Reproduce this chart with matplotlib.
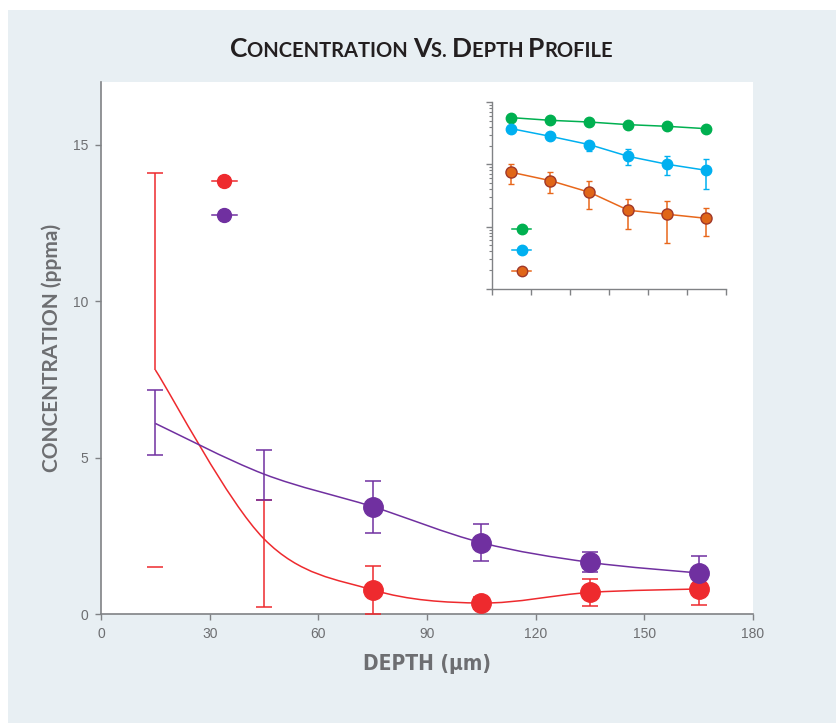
import matplotlib
matplotlib.use("Agg")
import matplotlib.pyplot as plt
import numpy as np
from matplotlib.path import Path
from matplotlib.patches import PathPatch, Rectangle
from matplotlib.lines import Line2D

# main chart data
depth = [15, 45, 75, 105, 135, 165]
red_y = [7.8, 2.4, 0.77, 0.35, 0.69, 0.80]
red_err_lo = [0.0, 2.19, 0.76, 0.2, 0.44, 0.5]
red_err_hi = [6.28, 1.25, 0.76, 0.2, 0.44, 0.5]
red_stray_cap = 1.51          # lone lower cap drawn at 15 um
purple_y = [6.09, 4.47, 3.43, 2.28, 1.65, 1.31]
purple_err_lo = [1.01, 0.82, 0.85, 0.58, 0.32, 0.0]
purple_err_hi = [1.06, 0.78, 0.81, 0.60, 0.34, 0.55]
x_ticks = [0, 30, 60, 90, 120, 150, 180]
y_ticks = [0, 5, 10, 15]

# inset (log scale) data
green_y = [561, 508, 477, 433, 407, 373]
blue_y = [373, 281, 207, 134, 100, 80]
blue_lo = [373, 281, 164, 96, 68, 40]
blue_hi = [373, 281, 228, 174, 134, 120]
orange_y = [74.5, 54.7, 35.6, 18.3, 15.8, 13.6]
orange_lo = [49, 35, 19, 9.3, 5.5, 7.2]
orange_hi = [100, 74.5, 54, 27.5, 25.8, 19.9]

RED = "#ee2a2e"
PURPLE = "#7030a0"
GREEN = "#00b050"
BLUE = "#00b0f0"
ORANGE = "#e8671b"
GREY = "#6d6e71"


def smooth(ax, xs, ys, color, lw=1.1):
    # Catmull-Rom spline drawn as cubic Bezier segments
    p = np.column_stack([xs, ys]).astype(float)
    ext = np.vstack([p[0], p, p[-1]])
    verts = [p[0]]
    codes = [Path.MOVETO]
    for i in range(len(p) - 1):
        p0, p1, p2, p3 = ext[i], ext[i + 1], ext[i + 2], ext[i + 3]
        verts += [p1 + (p2 - p0) / 6, p2 - (p3 - p1) / 6, p2]
        codes += [Path.CURVE4] * 3
    ax.add_patch(PathPatch(Path(verts, codes), fill=False, edgecolor=color, lw=lw, zorder=2))


def bars(ax, xs, ys, lo, hi, color, z):
    ys = np.asarray(ys)
    lo = np.asarray(lo)
    hi = np.asarray(hi)
    xs = np.asarray(xs)
    ax.vlines(xs, ys - lo, ys + hi, color=color, lw=1.1, zorder=z)
    ax.plot(xs[hi > 0], (ys + hi)[hi > 0], "_", ms=12, mew=1.1, color=color, zorder=z)
    ax.plot(xs[lo > 0], (ys - lo)[lo > 0], "_", ms=12, mew=1.1, color=color, zorder=z)


fig = plt.figure(figsize=(8.37, 7.23), dpi=100, facecolor="white")
fig.patches.append(Rectangle((8 / 837, 0), 1, 1 - 10 / 723, transform=fig.transFigure,
                             facecolor="#e8eff3", edgecolor="none", zorder=-10))

ax = fig.add_axes([101 / 837, 1 - 614 / 723, 652 / 837, 532 / 723])
ax.set_facecolor("white")

smooth(ax, depth, red_y, RED)
smooth(ax, depth, purple_y, PURPLE)

bars(ax, depth, red_y, red_err_lo, red_err_hi, RED, 3)
ax.plot([depth[0]], [red_stray_cap], "_", ms=12, mew=1.1, color=RED, zorder=3)
bars(ax, depth, purple_y, purple_err_lo, purple_err_hi, PURPLE, 4)
ax.plot(depth[2:], red_y[2:], "o", ms=14, color=RED, zorder=5)
ax.plot(depth[2:], purple_y[2:], "o", ms=14, color=PURPLE, zorder=5)

ax.set_xlim(0, 180)
ax.set_ylim(0, 17)
ax.set_xticks(x_ticks)
ax.set_yticks(y_ticks)
for s in ["top", "right"]:
    ax.spines[s].set_visible(False)
for s in ["left", "bottom"]:
    ax.spines[s].set_color("#808285")
    ax.spines[s].set_linewidth(1.2)
ax.tick_params(length=4, width=1, color="#808285", labelcolor=GREY, labelsize=10, pad=5)
for lab in ax.get_xticklabels() + ax.get_yticklabels():
    lab.set_family("Liberation Sans")

ax.set_xlabel("DEPTH (\u03bcm)", fontsize=15, fontweight="bold", color=GREY,
              family="DejaVu Sans", fontstretch="condensed", labelpad=10)
ax.set_ylabel("CONCENTRATION (ppma)", fontsize=15, fontweight="bold", color=GREY,
              family=["Lato", "DejaVu Sans"], labelpad=8)

main_handles = [Line2D([], [], color=RED, marker="o", ms=10, lw=1.1),
                Line2D([], [], color=PURPLE, marker="o", ms=10, lw=1.1)]
ax.legend(main_handles, ["", ""], loc="upper left", bbox_to_anchor=(0.159, 0.838),
          frameon=False, handlelength=1.8, labelspacing=1.4, borderpad=0, fontsize=10)

# inset
ins = fig.add_axes([492 / 837, 1 - 289 / 723, 234 / 837, 187 / 723])
ins.patch.set_alpha(0)
ins.set_yscale("log")
ins.plot(depth, green_y, "-o", color=GREEN, ms=7.5, lw=1.1, zorder=3)
ins.errorbar(depth, blue_y, yerr=[np.subtract(blue_y, blue_lo), np.subtract(blue_hi, blue_y)],
             fmt="-o", color=BLUE, ms=7.5, lw=1.1, elinewidth=1.1, capsize=2.5, zorder=3)
ins.errorbar(depth, orange_y, yerr=[np.subtract(orange_y, orange_lo), np.subtract(orange_hi, orange_y)],
             fmt="-o", color=ORANGE, mfc="#e06618", mec="#a0382a", mew=1, ms=8, lw=1.1,
             elinewidth=1.1, capsize=2.5, zorder=3)
ins.set_xlim(0, 180)
ins.set_ylim(1, 1000)
ins.set_xticks(x_ticks)
ins.set_xticklabels([])
ins.yaxis.set_major_formatter(matplotlib.ticker.NullFormatter())
ins.yaxis.set_minor_formatter(matplotlib.ticker.NullFormatter())
for s in ["top", "right"]:
    ins.spines[s].set_visible(False)
for s in ["left", "bottom"]:
    ins.spines[s].set_color("#808285")
    ins.spines[s].set_linewidth(1)
ins.tick_params(which="major", length=4, width=1, color="#808285")
ins.tick_params(which="minor", length=2, width=0.8, color="#808285")

inset_handles = [Line2D([], [], color=GREEN, marker="o", ms=7.5, lw=1.1),
                 Line2D([], [], color=BLUE, marker="o", ms=7.5, lw=1.1),
                 Line2D([], [], color=ORANGE, marker="o", mfc="#e06618", mec="#a0382a", ms=7.5, lw=1.1)]
ins.legend(inset_handles, ["", "", ""], loc="upper left", bbox_to_anchor=(0.056, 0.39),
           frameon=False, handlelength=1.4, labelspacing=0.5, borderpad=0, fontsize=10)

# small-caps title
fig.canvas.draw()
renderer = fig.canvas.get_renderer()
parts = [("C", "ONCENTRATION "), ("V", "S. "), ("D", "EPTH "), ("P", "ROFILE")]
texts = []
x = 0.0
base_y = 1 - 57 / 723
for big, small in parts:
    for s, size in [(big, 19), (small, 14.5)]:
        t = fig.text(x, base_y, s, fontsize=size, fontweight="bold", color="#231f20",
                     family=["Lato", "DejaVu Sans"], va="baseline", ha="left")
        bb = t.get_window_extent(renderer)
        texts.append(t)
        x = bb.x1 / fig.bbox.width
total = x
shift = 0.5 - total / 2 + 3 / 837
for t in texts:
    tx, ty = t.get_position()
    t.set_position((tx + shift, ty))

fig.savefig("out.png", dpi=100, facecolor=fig.get_facecolor())
